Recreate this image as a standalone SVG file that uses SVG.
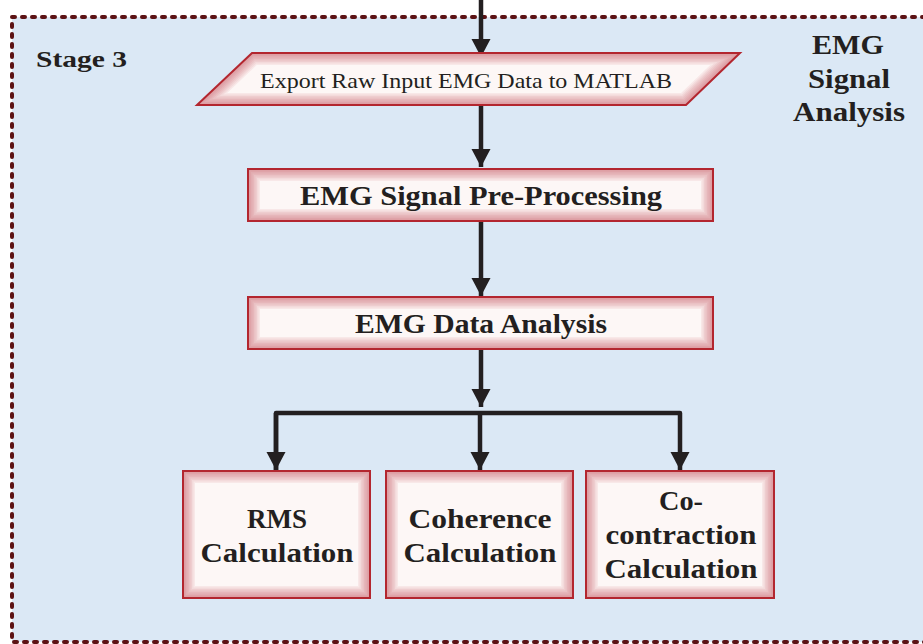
<svg xmlns="http://www.w3.org/2000/svg" xmlns:xlink="http://www.w3.org/1999/xlink" width="923" height="644" viewBox="0 0 923 644">
  <defs>
    <style>
      .lbl { font-family: "Liberation Serif", "DejaVu Serif", serif; fill: #231f20; text-anchor: middle; }
      .b { font-weight: bold; }
      .edge { fill: none; stroke: #b3262f; stroke-width: 2; }
      .body { fill: #fdf7f6; stroke: none; }
      .halo use { fill: none; stroke: #c03a48; stroke-opacity: 0.075; }
      .wire { fill: none; stroke: #231f20; stroke-width: 4.5; stroke-linejoin: round; }
    </style>
    <marker id="head" markerUnits="userSpaceOnUse" markerWidth="20" markerHeight="20" viewBox="0 0 20 20" refX="18" refY="10" orient="auto">
      <path d="M0,0.5 L18,10 L0,19.5 Z" fill="#231f20"/>
    </marker>
    <!-- node outlines, reused for fill, inner halo and border -->
    <path id="s-export" d="M252,53 H740 L686,105 H197 Z"/>
    <rect id="s-pre" x="248" y="169" width="465" height="52"/>
    <rect id="s-ana" x="248" y="297" width="465" height="52"/>
    <rect id="s-rms" x="183" y="471" width="187" height="127"/>
    <rect id="s-coh" x="386" y="471" width="187" height="127"/>
    <rect id="s-coc" x="586" y="471" width="188" height="127"/>
    <clipPath id="c-export"><use xlink:href="#s-export"/></clipPath>
    <clipPath id="c-pre"><use xlink:href="#s-pre"/></clipPath>
    <clipPath id="c-ana"><use xlink:href="#s-ana"/></clipPath>
    <clipPath id="c-rms"><use xlink:href="#s-rms"/></clipPath>
    <clipPath id="c-coh"><use xlink:href="#s-coh"/></clipPath>
    <clipPath id="c-coc"><use xlink:href="#s-coc"/></clipPath>
    <!-- stacked translucent strokes give a soft inner glow -->
    <g id="h-export"><use xlink:href="#s-export" stroke-width="24"/><use xlink:href="#s-export" stroke-width="21"/><use xlink:href="#s-export" stroke-width="18"/><use xlink:href="#s-export" stroke-width="15"/><use xlink:href="#s-export" stroke-width="12"/><use xlink:href="#s-export" stroke-width="9"/><use xlink:href="#s-export" stroke-width="6"/><use xlink:href="#s-export" stroke-width="3"/></g>
    <g id="h-pre"><use xlink:href="#s-pre" stroke-width="24"/><use xlink:href="#s-pre" stroke-width="21"/><use xlink:href="#s-pre" stroke-width="18"/><use xlink:href="#s-pre" stroke-width="15"/><use xlink:href="#s-pre" stroke-width="12"/><use xlink:href="#s-pre" stroke-width="9"/><use xlink:href="#s-pre" stroke-width="6"/><use xlink:href="#s-pre" stroke-width="3"/></g>
    <g id="h-ana"><use xlink:href="#s-ana" stroke-width="24"/><use xlink:href="#s-ana" stroke-width="21"/><use xlink:href="#s-ana" stroke-width="18"/><use xlink:href="#s-ana" stroke-width="15"/><use xlink:href="#s-ana" stroke-width="12"/><use xlink:href="#s-ana" stroke-width="9"/><use xlink:href="#s-ana" stroke-width="6"/><use xlink:href="#s-ana" stroke-width="3"/></g>
    <g id="h-rms"><use xlink:href="#s-rms" stroke-width="24"/><use xlink:href="#s-rms" stroke-width="21"/><use xlink:href="#s-rms" stroke-width="18"/><use xlink:href="#s-rms" stroke-width="15"/><use xlink:href="#s-rms" stroke-width="12"/><use xlink:href="#s-rms" stroke-width="9"/><use xlink:href="#s-rms" stroke-width="6"/><use xlink:href="#s-rms" stroke-width="3"/></g>
    <g id="h-coh"><use xlink:href="#s-coh" stroke-width="24"/><use xlink:href="#s-coh" stroke-width="21"/><use xlink:href="#s-coh" stroke-width="18"/><use xlink:href="#s-coh" stroke-width="15"/><use xlink:href="#s-coh" stroke-width="12"/><use xlink:href="#s-coh" stroke-width="9"/><use xlink:href="#s-coh" stroke-width="6"/><use xlink:href="#s-coh" stroke-width="3"/></g>
    <g id="h-coc"><use xlink:href="#s-coc" stroke-width="24"/><use xlink:href="#s-coc" stroke-width="21"/><use xlink:href="#s-coc" stroke-width="18"/><use xlink:href="#s-coc" stroke-width="15"/><use xlink:href="#s-coc" stroke-width="12"/><use xlink:href="#s-coc" stroke-width="9"/><use xlink:href="#s-coc" stroke-width="6"/><use xlink:href="#s-coc" stroke-width="3"/></g>
  </defs>

  <!-- stage panel -->
  <g id="panel">
    <rect x="12" y="17" width="940" height="625" fill="#dbe8f5"/>
    <rect x="12" y="17" width="940" height="625" fill="none" stroke="#5c1214" stroke-width="4" stroke-dasharray="3 7" stroke-linecap="round"/>
    <text class="lbl b" x="36" y="67" font-size="24" style="text-anchor:start" textLength="91" lengthAdjust="spacingAndGlyphs">Stage 3</text>
    <text class="lbl b" x="848" y="54" font-size="27" textLength="72" lengthAdjust="spacingAndGlyphs">EMG</text>
    <text class="lbl b" x="849" y="88" font-size="27" textLength="82" lengthAdjust="spacingAndGlyphs">Signal</text>
    <text class="lbl b" x="849" y="121" font-size="27" textLength="112" lengthAdjust="spacingAndGlyphs">Analysis</text>
  </g>

  <!-- connectors -->
  <g id="connectors">
    <path class="wire" d="M481,0 V57" marker-end="url(#head)"/>
    <path class="wire" d="M481,105 V167" marker-end="url(#head)"/>
    <path class="wire" d="M481,221 V296" marker-end="url(#head)"/>
    <path class="wire" d="M481,349 V407" marker-end="url(#head)"/>
    <path class="wire" d="M276,470 V413 H680 V470" marker-end="url(#head)"/>
    <path class="wire" d="M276,413 V470" marker-end="url(#head)"/>
    <path class="wire" d="M480,413 V470" marker-end="url(#head)"/>
  </g>

  <g id="export">
    <use xlink:href="#s-export" class="body"/>
    <g class="halo" clip-path="url(#c-export)"><use xlink:href="#h-export"/></g>
    <use xlink:href="#s-export" class="edge"/>
    <text class="lbl" x="466" y="88" font-size="22" textLength="412" lengthAdjust="spacingAndGlyphs">Export Raw Input EMG Data to MATLAB</text>
  </g>

  <g id="preprocessing">
    <use xlink:href="#s-pre" class="body"/>
    <g class="halo" clip-path="url(#c-pre)"><use xlink:href="#h-pre"/></g>
    <use xlink:href="#s-pre" class="edge"/>
    <text class="lbl b" x="481" y="205" font-size="27" textLength="362" lengthAdjust="spacingAndGlyphs">EMG Signal Pre-Processing</text>
  </g>

  <g id="analysis">
    <use xlink:href="#s-ana" class="body"/>
    <g class="halo" clip-path="url(#c-ana)"><use xlink:href="#h-ana"/></g>
    <use xlink:href="#s-ana" class="edge"/>
    <text class="lbl b" x="481" y="333" font-size="27" textLength="252" lengthAdjust="spacingAndGlyphs">EMG Data Analysis</text>
  </g>

  <g id="rms">
    <use xlink:href="#s-rms" class="body"/>
    <g class="halo" clip-path="url(#c-rms)"><use xlink:href="#h-rms"/></g>
    <use xlink:href="#s-rms" class="edge"/>
    <text class="lbl b" x="277" y="528" font-size="27" textLength="60" lengthAdjust="spacingAndGlyphs">RMS</text>
    <text class="lbl b" x="277" y="562" font-size="27" textLength="153" lengthAdjust="spacingAndGlyphs">Calculation</text>
  </g>

  <g id="coherence">
    <use xlink:href="#s-coh" class="body"/>
    <g class="halo" clip-path="url(#c-coh)"><use xlink:href="#h-coh"/></g>
    <use xlink:href="#s-coh" class="edge"/>
    <text class="lbl b" x="480" y="528" font-size="27" textLength="143" lengthAdjust="spacingAndGlyphs">Coherence</text>
    <text class="lbl b" x="480" y="562" font-size="27" textLength="153" lengthAdjust="spacingAndGlyphs">Calculation</text>
  </g>

  <g id="cocontraction">
    <use xlink:href="#s-coc" class="body"/>
    <g class="halo" clip-path="url(#c-coc)"><use xlink:href="#h-coc"/></g>
    <use xlink:href="#s-coc" class="edge"/>
    <text class="lbl b" x="681" y="510" font-size="27" textLength="44" lengthAdjust="spacingAndGlyphs">Co-</text>
    <text class="lbl b" x="681" y="544" font-size="27" textLength="151" lengthAdjust="spacingAndGlyphs">contraction</text>
    <text class="lbl b" x="681" y="578" font-size="27" textLength="153" lengthAdjust="spacingAndGlyphs">Calculation</text>
  </g>
</svg>
